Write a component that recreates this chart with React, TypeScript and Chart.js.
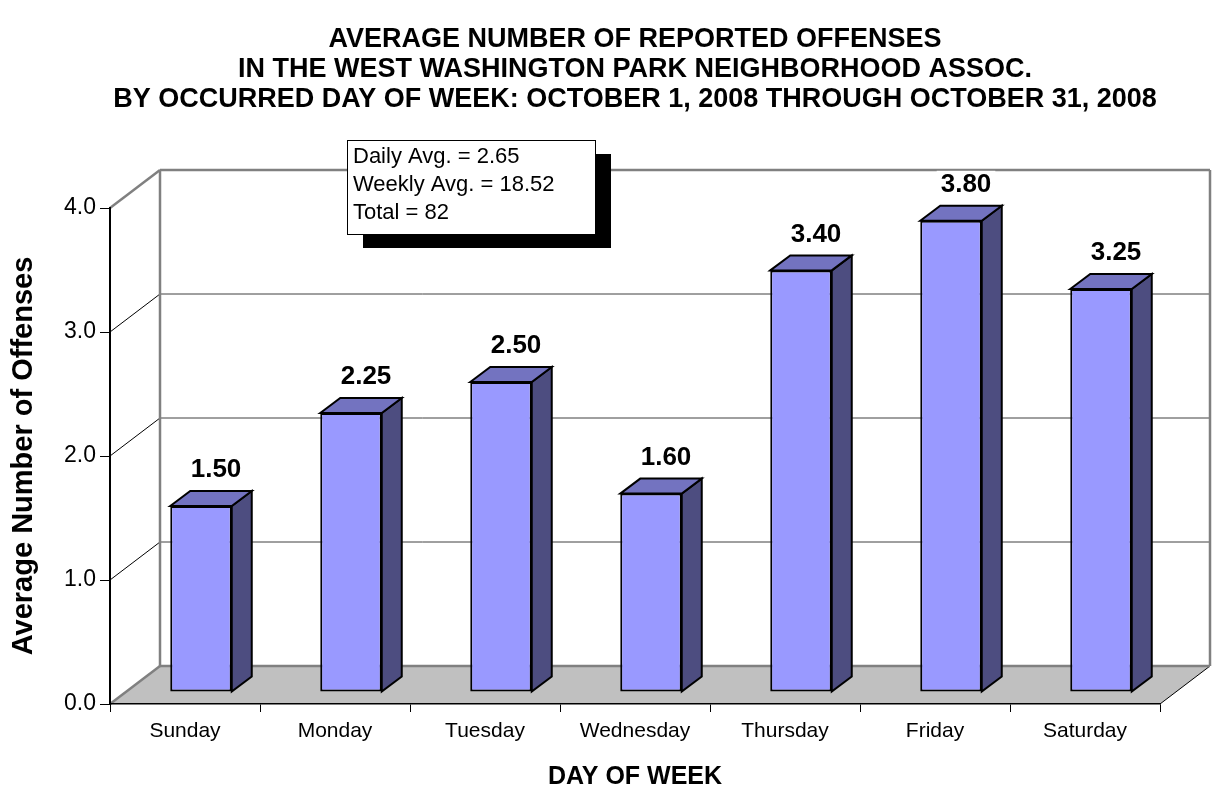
import React, { useEffect, useRef } from 'react';
import { Chart, registerables } from 'chart.js';

Chart.register(...registerables);

const categories = ['Sunday', 'Monday', 'Tuesday', 'Wednesday', 'Thursday', 'Friday', 'Saturday'];
const averages = [1.5, 2.25, 2.5, 1.6, 3.4, 3.8, 3.25];
const yTicks = [0, 1, 2, 3, 4];
const titleLines = [
  'AVERAGE NUMBER OF REPORTED OFFENSES',
  'IN THE WEST WASHINGTON PARK NEIGHBORHOOD ASSOC.',
  'BY OCCURRED DAY OF WEEK: OCTOBER 1, 2008 THROUGH OCTOBER 31, 2008',
];
const summaryLines = ['Daily Avg. = 2.65', 'Weekly Avg. = 18.52', 'Total = 82'];
const xTitle = 'DAY OF WEEK';
const yTitle = 'Average Number of Offenses';

const FONT = "'Liberation Sans', Arial, Helvetica, sans-serif";
const WALL_DX = 50;
const WALL_DY = -38;
const BAR_DX = 16;
const BAR_DY = -12;
const FACE_DX = 20;
const FACE_DY = -15;

function seg(ctx: CanvasRenderingContext2D, x1: number, y1: number, x2: number, y2: number) {
  ctx.beginPath();
  ctx.moveTo(x1, y1);
  ctx.lineTo(x2, y2);
  ctx.stroke();
}

const wall3d = {
  id: 'wall3d',
  beforeDraw(chart: any) {
    const { ctx, chartArea: a } = chart;
    const y = chart.scales.y;
    const y0 = y.getPixelForValue(0);
    const yTop = y.getPixelForValue(yTicks[yTicks.length - 1]);
    ctx.save();
    // floor
    ctx.fillStyle = '#C0C0C0';
    ctx.beginPath();
    ctx.moveTo(a.left, y0);
    ctx.lineTo(a.right, y0);
    ctx.lineTo(a.right + WALL_DX, y0 + WALL_DY);
    ctx.lineTo(a.left + WALL_DX, y0 + WALL_DY);
    ctx.closePath();
    ctx.fill();
    ctx.strokeStyle = '#000';
    ctx.lineWidth = 1;
    seg(ctx, a.right, y0, a.right + WALL_DX, y0 + WALL_DY);
    // inner gridlines
    for (const v of yTicks) {
      if (v === yTicks[0] || v === yTicks[yTicks.length - 1]) continue;
      const py = y.getPixelForValue(v);
      ctx.strokeStyle = '#404040';
      ctx.lineWidth = 1;
      seg(ctx, a.left + WALL_DX, py + WALL_DY, a.right + WALL_DX, py + WALL_DY);
      ctx.strokeStyle = '#000';
      seg(ctx, a.left, py, a.left + WALL_DX, py + WALL_DY);
    }
    // wall frame
    ctx.strokeStyle = '#808080';
    ctx.lineWidth = 2.5;
    seg(ctx, a.left + WALL_DX, yTop + WALL_DY, a.left + WALL_DX, y0 + WALL_DY);
    seg(ctx, a.right + WALL_DX, yTop + WALL_DY, a.right + WALL_DX, y0 + WALL_DY);
    seg(ctx, a.left + WALL_DX, yTop + WALL_DY, a.right + WALL_DX, yTop + WALL_DY);
    seg(ctx, a.left + WALL_DX, y0 + WALL_DY, a.right + WALL_DX, y0 + WALL_DY);
    seg(ctx, a.left, yTop, a.left + WALL_DX, yTop + WALL_DY);
    seg(ctx, a.left, y0, a.left + WALL_DX, y0 + WALL_DY);
    ctx.restore();
  },
  beforeDatasetsDraw(chart: any) {
    chart.ctx.save();
    chart.ctx.translate(BAR_DX, BAR_DY);
  },
  afterDatasetsDraw(chart: any) {
    const ctx = chart.ctx as CanvasRenderingContext2D;
    ctx.restore();
    const meta = chart.getDatasetMeta(0);
    const data = chart.data.datasets[0].data as number[];
    ctx.save();
    ctx.lineWidth = 2;
    ctx.strokeStyle = '#000';
    ctx.lineJoin = 'miter';
    meta.data.forEach((el: any, i: number) => {
      const { x, y, base, width } = el.getProps(['x', 'y', 'base', 'width'], true);
      const l = x - width / 2 + BAR_DX;
      const r = x + width / 2 + BAR_DX;
      const t = y + BAR_DY;
      const b = base + BAR_DY;
      // side face
      ctx.fillStyle = '#4D4D80';
      ctx.beginPath();
      ctx.moveTo(r, t);
      ctx.lineTo(r + FACE_DX, t + FACE_DY);
      ctx.lineTo(r + FACE_DX, b + FACE_DY);
      ctx.lineTo(r, b);
      ctx.closePath();
      ctx.fill();
      ctx.stroke();
      // top face
      ctx.fillStyle = '#7373C0';
      ctx.beginPath();
      ctx.moveTo(l, t);
      ctx.lineTo(l + FACE_DX, t + FACE_DY);
      ctx.lineTo(r + FACE_DX, t + FACE_DY);
      ctx.lineTo(r, t);
      ctx.closePath();
      ctx.fill();
      ctx.stroke();
      // value label
      const txt = Number(data[i]).toFixed(2);
      ctx.font = `bold 26px ${FONT}`;
      const w = ctx.measureText(txt).width;
      const cx = x + 31;
      const cy = y - 48;
      ctx.fillStyle = '#fff';
      ctx.fillRect(cx - w / 2 - 4, cy - 14, w + 8, 28);
      ctx.fillStyle = '#000';
      ctx.textAlign = 'center';
      ctx.textBaseline = 'middle';
      ctx.fillText(txt, cx, cy);
    });
    ctx.restore();
  },
  afterDraw(chart: any) {
    const ctx = chart.ctx as CanvasRenderingContext2D;
    const a = chart.chartArea;
    const bx = a.left + 237;
    const by = a.top - 68;
    const bw = 248;
    const bh = 94;
    ctx.save();
    ctx.fillStyle = '#000';
    ctx.fillRect(bx + 16, by + 14, bw, bh);
    ctx.fillStyle = '#fff';
    ctx.fillRect(bx, by, bw, bh);
    ctx.strokeStyle = '#000';
    ctx.lineWidth = 1;
    ctx.strokeRect(bx + 0.5, by + 0.5, bw, bh);
    ctx.fillStyle = '#000';
    ctx.font = `22px ${FONT}`;
    ctx.textAlign = 'left';
    ctx.textBaseline = 'middle';
    summaryLines.forEach((s, i) => ctx.fillText(s, bx + 6, by + 17 + i * 28));
    ctx.restore();
  },
};

export default function App() {
  const ref = useRef<HTMLCanvasElement | null>(null);
  useEffect(() => {
    if (!ref.current) return;
    const chart = new Chart(ref.current, {
      type: 'bar',
      data: {
        labels: categories,
        datasets: [
          {
            data: averages,
            backgroundColor: '#9999FF',
            borderColor: '#000',
            borderWidth: 2,
            borderSkipped: false,
            barPercentage: 0.41,
            categoryPercentage: 1,
          },
        ],
      },
      options: {
        responsive: false,
        animation: false,
        layout: { padding: { left: 0, right: 53, top: 0, bottom: 0 } },
        plugins: {
          legend: { display: false },
          tooltip: { enabled: false },
          title: {
            display: true,
            text: titleLines,
            fullSize: false,
            color: '#000',
            font: { family: FONT, size: 27, weight: 'bold', lineHeight: 30 / 27 },
            padding: { top: 25, bottom: 93 },
          },
        },
        scales: {
          x: {
            grid: { display: true, drawOnChartArea: false, drawTicks: true, tickLength: 8, color: '#000', lineWidth: 1, offset: true },
            border: { display: true, color: '#000', width: 1.5 },
            ticks: { color: '#000', font: { family: FONT, size: 21 }, padding: 7, maxRotation: 0, autoSkip: false },
            title: { display: true, text: xTitle, color: '#000', font: { family: FONT, size: 25, weight: 'bold', lineHeight: 0.8 }, padding: 0 },
            afterFit: (s: any) => {
              s.height = 83;
            },
          },
          y: {
            min: 0,
            max: 4,
            ticks: { stepSize: 1, color: '#000', font: { family: FONT, size: 23 }, padding: 4, callback: (v: any) => Number(v).toFixed(1) },
            grid: { drawOnChartArea: false, drawTicks: true, tickLength: 10, color: '#000', lineWidth: 1 },
            border: { display: true, color: '#000', width: 2 },
            title: { display: true, text: yTitle, color: '#000', font: { family: FONT, size: 29, weight: 'bold' }, padding: { top: 7, bottom: 0 } },
            afterFit: (s: any) => {
              s.width = 110;
            },
          },
        },
      },
      plugins: [wall3d],
    } as any);
    return () => chart.destroy();
  }, []);
  return (
    <div style={{ position: 'absolute', left: 0, top: 0, width: 1213, height: 787, background: '#fff' }}>
      <canvas ref={ref} width={1213} height={787} style={{ display: 'block' }} />
    </div>
  );
}
